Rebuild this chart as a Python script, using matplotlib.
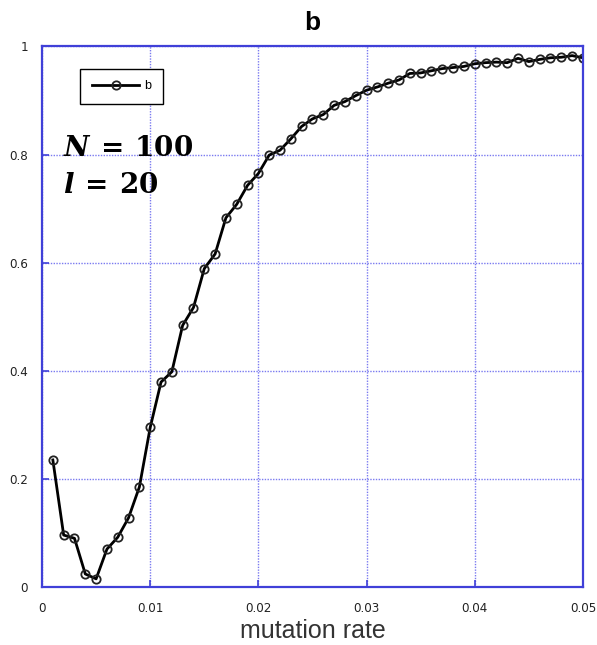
import numpy as np
import matplotlib
matplotlib.use("Agg")
import matplotlib.pyplot as plt

# mutation rate sweep and the resulting b values
mutation_rate = [round(0.001 * i, 3) for i in range(1, 51)]
b_values = [
    0.235, 0.096, 0.090, 0.024, 0.015, 0.070, 0.092, 0.128, 0.185, 0.295,
    0.379, 0.398, 0.484, 0.517, 0.589, 0.616, 0.683, 0.708, 0.743, 0.765,
    0.799, 0.808, 0.829, 0.852, 0.866, 0.874, 0.891, 0.898, 0.909, 0.919,
    0.925, 0.932, 0.938, 0.950, 0.951, 0.955, 0.959, 0.961, 0.963, 0.968,
    0.970, 0.971, 0.970, 0.978, 0.972, 0.976, 0.979, 0.980, 0.983, 0.979,
]
x_ticks = [0, 0.01, 0.02, 0.03, 0.04, 0.05]
x_tick_labels = ["0", "0.01", "0.02", "0.03", "0.04", "0.05"]
y_ticks = [0, 0.2, 0.4, 0.6, 0.8, 1.0]
y_tick_labels = ["0", "0.2", "0.4", "0.6", "0.8", "1"]

blue = "#4040d8"
grid_blue = "#7a7af0"

fig = plt.figure(figsize=(5.97, 6.45), dpi=100)
ax = fig.add_axes([0.0704, 0.090, 0.906, 0.838])

ax.plot(mutation_rate, b_values, color="black", lw=2.0, marker="o",
        markersize=6, markerfacecolor="none", markeredgecolor="#222222",
        markeredgewidth=1.3, label="b")

ax.set_xlim(0, 0.05)
ax.set_ylim(0, 1)
ax.set_xticks(x_ticks)
ax.set_xticklabels(x_tick_labels)
ax.set_yticks(y_ticks)
ax.set_yticklabels(y_tick_labels)

for lab in ax.get_xticklabels() + ax.get_yticklabels():
    lab.set_family("DejaVu Sans")
    lab.set_stretch("condensed")
    lab.set_fontsize(9.5)
    lab.set_color("#222222")

ax.tick_params(direction="in", length=5, width=1.2, color=blue,
               top=False, right=False)
ax.tick_params(axis="x", pad=11)
ax.tick_params(axis="y", pad=10)

for sp in ax.spines.values():
    sp.set_color(blue)
    sp.set_linewidth(1.6)

ax.grid(True, color=grid_blue, linestyle=(0, (1, 1)), linewidth=1.0)
ax.set_axisbelow(True)

ax.set_title("b", fontsize=19, fontweight="bold", family="Liberation Sans",
             pad=12)
ax.set_xlabel("mutation rate", fontsize=18, family="Liberation Sans",
              color="#333333", labelpad=3)

leg = ax.legend(loc="upper left", bbox_to_anchor=(0.070, 0.959),
                borderaxespad=0, fancybox=False, edgecolor="black",
                framealpha=1, handlelength=3.8, borderpad=0.95,
                handletextpad=0.4,
                prop={"family": "Liberation Sans", "size": 9})
leg.get_frame().set_linewidth(1.0)

ax.text(0.038, 0.797, r"$\mathbfit{N}\:\mathbf{=}\:\mathbf{100}$",
        transform=ax.transAxes, fontsize=20, color="black",
        va="baseline", ha="left", math_fontfamily="dejavuserif")
ax.text(0.038, 0.728, r"$\mathbfit{l}\:\mathbf{=}\:\mathbf{20}$",
        transform=ax.transAxes, fontsize=20, color="black",
        va="baseline", ha="left", math_fontfamily="dejavuserif")

fig.savefig("out.png", dpi=100)
